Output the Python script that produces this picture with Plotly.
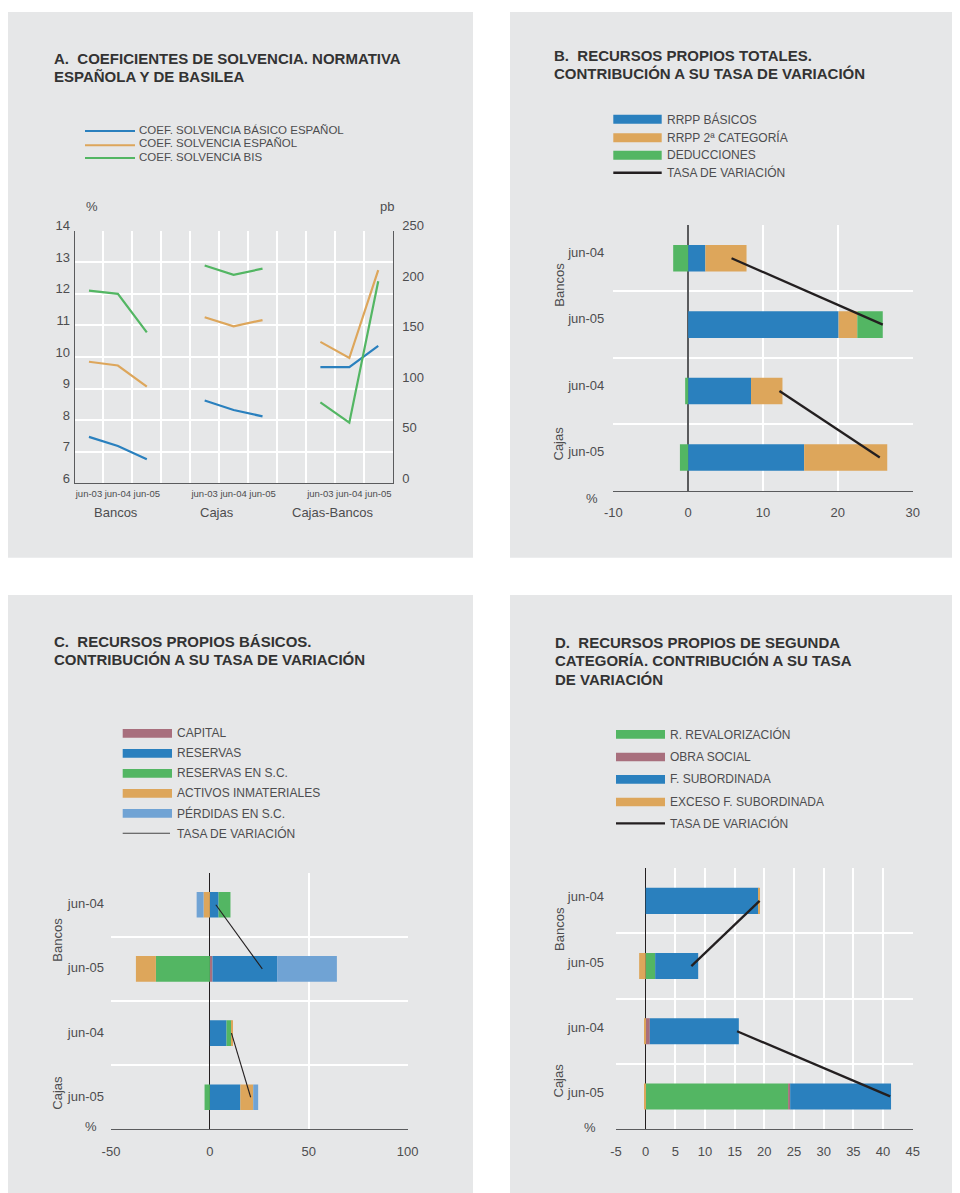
import plotly.graph_objects as go

# ---------------- DATA ----------------
# Panel A: coeficientes de solvencia (% for Bancos / Cajas, pb for Cajas-Bancos)
a_periods = ["jun-03", "jun-04", "jun-05"]
a_groups = ["Bancos", "Cajas", "Cajas-Bancos"]
a_series = ["COEF. SOLVENCIA BÁSICO ESPAÑOL", "COEF. SOLVENCIA ESPAÑOL", "COEF. SOLVENCIA BIS"]
bancos_basico = [7.47, 7.18, 6.76]
bancos_espanol = [9.85, 9.73, 9.06]
bancos_bis = [12.10, 12.00, 10.78]
cajas_basico = [8.62, 8.32, 8.12]
cajas_espanol = [11.26, 10.97, 11.17]
cajas_bis = [12.90, 12.60, 12.80]
dif_basico_pb = [115, 115, 136]
dif_espanol_pb = [140, 124, 211]
dif_bis_pb = [80, 60, 200]

# Rows shared by panels B, C, D
rows = ["jun-04", "jun-05", "jun-04", "jun-05"]
row_entities = ["Bancos", "Bancos", "Cajas", "Cajas"]

# Panel B: recursos propios totales
b_names = ["RRPP BÁSICOS", "RRPP 2ª CATEGORÍA", "DEDUCCIONES", "TASA DE VARIACIÓN"]
b_basicos = [2.3, 20.1, 8.4, 15.5]
b_segunda = [5.5, 2.5, 4.2, 11.1]
b_deducciones = [-2.0, 3.4, -0.4, -1.1]
b_tasa = [5.8, 26.0, 12.2, 25.6]
b_ticks = [-10, 0, 10, 20, 30]

# Panel C: recursos propios básicos
c_names = ["CAPITAL", "RESERVAS", "RESERVAS EN S.C.", "ACTIVOS INMATERIALES",
           "PÉRDIDAS EN S.C.", "TASA DE VARIACIÓN"]
c_capital = [0.0, 1.3, 0.0, 0.0]
c_reservas = [4.4, 32.7, 8.4, 15.4]
c_reservas_sc = [6.0, -27.3, 2.5, -2.7]
c_activos_inm = [-3.2, -10.1, 0.3, 6.5]
c_perdidas_sc = [-3.5, 30.2, 0.0, 2.5]
c_tasa = [3.0, 26.5, 10.9, 20.6]
c_ticks = [-50, 0, 50, 100]

# Panel D: recursos propios de segunda categoría
d_names = ["R. REVALORIZACIÓN", "OBRA SOCIAL", "F. SUBORDINADA",
           "EXCESO F. SUBORDINADA", "TASA DE VARIACIÓN"]
d_revalorizacion = [0.0, 1.6, 0.0, 24.0]
d_obra_social = [0.0, 0.0, 0.7, 0.35]
d_subordinada = [19.0, 7.25, 15.0, 17.0]
d_exceso = [0.15, -1.1, -0.2, -0.2]
d_tasa = [19.2, 7.7, 15.4, 41.2]
d_ticks = [-5, 0, 5, 10, 15, 20, 25, 30, 35, 40, 45]

# ---------------- STYLE ----------------
PAGE_OFF = 8          # default body margin of the html page
W, H = 960 - PAGE_OFF, 1193 - PAGE_OFF
BLUE = "#2A80BE"
ORANGE = "#DDA65B"
GREEN = "#53B663"
PINK = "#A86F7D"
LBLUE = "#70A3D4"
BG = "#E6E7E8"
AXIS = "#5A5B5D"
TXT = "#4D4D4F"
TITLE = "#333333"
BLACK = "#231F20"
FONT = "Liberation Sans, Arial, sans-serif"


def fx(px):
    return (px - PAGE_OFF) / W


def fy(py):
    return 1 - (py - PAGE_OFF) / H


fig = go.Figure()
shapes = []
annotations = []

# panel backgrounds
for (x0, y0, x1, y1) in [(8, 12, 473, 557.7), (510, 12, 960, 557.7),
                         (8, 595, 473, 1193), (510, 595, 960, 1193)]:
    shapes.append(dict(type="rect", xref="paper", yref="paper", x0=fx(x0), x1=fx(x1),
                       y0=fy(y1), y1=fy(y0), fillcolor=BG, line=dict(width=0), layer="below"))


def text(px, py, s, size=12, color=TXT, bold=False, xanchor="left", angle=0):
    if bold:
        s = "<b>" + s + "</b>"
    annotations.append(dict(xref="paper", yref="paper", x=fx(px), y=fy(py), text=s,
                            showarrow=False, xanchor=xanchor, yanchor="middle",
                            textangle=angle, font=dict(family=FONT, size=size, color=color)))


def leg_rect(x0, x1, yc, h, color, label, lx):
    shapes.append(dict(type="rect", xref="paper", yref="paper", x0=fx(x0), x1=fx(x1),
                       y0=fy(yc + h / 2), y1=fy(yc - h / 2), fillcolor=color, line=dict(width=0)))
    text(lx, yc, label)


def leg_line(x0, x1, yc, color, width, label, lx, ly=None, size=12):
    shapes.append(dict(type="line", xref="paper", yref="paper", x0=fx(x0), x1=fx(x1),
                       y0=fy(yc), y1=fy(yc), line=dict(color=color, width=width)))
    text(lx, yc if ly is None else ly, label, size)


# ---------------- PANEL A ----------------
a_colors = [BLUE, ORANGE, GREEN]
a_data = [
    [bancos_basico, bancos_espanol, bancos_bis],
    [cajas_basico, cajas_espanol, cajas_bis],
    [dif_basico_pb, dif_espanol_pb, dif_bis_pb],
]
for gi, group in enumerate(a_groups):
    xs = [gi * 4 + i + 0.5 for i in range(len(a_periods))]
    for si, vals in enumerate(a_data[gi]):
        fig.add_trace(go.Scatter(x=xs, y=vals, mode="lines", name=a_series[si],
                                 line=dict(color=a_colors[si], width=2.2),
                                 xaxis="x", yaxis="y" if gi < 2 else "y2", showlegend=False))

a_tickvals = [gi * 4 + i + 0.5 for gi in range(3) for i in range(3)]
a_ticktext = a_periods * 3

text(52, 58.5, "A.\u00a0 COEFICIENTES DE SOLVENCIA. NORMATIVA", 15, TITLE, True)
text(52, 76.5, "ESPAÑOLA Y DE BASILEA", 15, TITLE, True)
leg_line(85, 135, 131, BLUE, 2, a_series[0], 137, 129.8, 11.5)
leg_line(85, 135, 145.3, ORANGE, 2, a_series[1], 137, 143.3, 11.5)
leg_line(85, 135, 158, GREEN, 2, a_series[2], 137, 156.8, 11.5)
text(91.7, 206.7, "%", 13, TXT, xanchor="center")
text(386.7, 207, "pb", 13, TXT, xanchor="center")
text(116.3, 512.7, a_groups[0], 13, TXT, xanchor="center")
text(216.7, 512.7, a_groups[1], 13, TXT, xanchor="center")
text(332.3, 512.7, a_groups[2], 13, TXT, xanchor="center")

# ---------------- PANELS B, C, D ----------------
ypos = list(range(len(rows)))


def add_bars(values, names, colors, xa, ya):
    for vals, nm, col in zip(values, names, colors):
        fig.add_trace(go.Bar(x=vals, y=ypos, orientation="h", name=nm,
                             marker=dict(color=col, line=dict(width=0)),
                             xaxis=xa, yaxis=ya, showlegend=False))


def add_tasa(tasa, name, xa, ya, width, color):
    xs, ys = [], []
    for i, (v, ent) in enumerate(zip(tasa, row_entities)):
        if i > 0 and ent != row_entities[i - 1]:
            xs.append(None)
            ys.append(None)
        xs.append(v)
        ys.append(ypos[i])
    fig.add_trace(go.Scatter(x=xs, y=ys, mode="lines", name=name,
                             line=dict(color=color, width=width),
                             xaxis=xa, yaxis=ya, showlegend=False))


# B
add_bars([b_basicos, b_segunda, b_deducciones], b_names[:3], [BLUE, ORANGE, GREEN], "x2", "y3")
add_tasa(b_tasa, b_names[3], "x2", "y3", 2.3, BLACK)
text(552, 55.5, "B.\u00a0 RECURSOS PROPIOS TOTALES.", 15, TITLE, True)
text(552, 73, "CONTRIBUCIÓN A SU TASA DE VARIACIÓN", 15, TITLE, True)
for i, (col, yc) in enumerate(zip([BLUE, ORANGE, GREEN], [119.3, 137.7, 155.3])):
    leg_rect(613.3, 661.7, yc, 9, col, b_names[i], 665)
leg_line(613.3, 661.7, 172.7, BLACK, 2.5, b_names[3], 665)
text(592.3, 498.3, "%", 13, TXT, xanchor="center")
text(558.7, 285, "Bancos", 13, TXT, xanchor="center", angle=-90)
text(558.7, 443.8, "Cajas", 13, TXT, xanchor="center", angle=-90)

# C
add_bars([c_capital, c_reservas, c_reservas_sc, c_activos_inm, c_perdidas_sc], c_names[:5],
         [PINK, BLUE, GREEN, ORANGE, LBLUE], "x3", "y4")
add_tasa(c_tasa, c_names[5], "x3", "y4", 1.1, BLACK)
text(52, 641, "C.\u00a0 RECURSOS PROPIOS BÁSICOS.", 15, TITLE, True)
text(52, 659.5, "CONTRIBUCIÓN A SU TASA DE VARIACIÓN", 15, TITLE, True)
for i, (col, yc) in enumerate(zip([PINK, BLUE, GREEN, ORANGE, LBLUE],
                                  [733.3, 753.3, 773.3, 793.3, 813.3])):
    leg_rect(122.7, 172, yc, 8.7, col, c_names[i], 175)
leg_line(122.7, 170, 833.3, "#444444", 1.1, c_names[5], 175)
text(90.7, 1126.7, "%", 13, TXT, xanchor="center")
text(56.7, 940, "Bancos", 13, TXT, xanchor="center", angle=-90)
text(56.7, 1093, "Cajas", 13, TXT, xanchor="center", angle=-90)

# D
add_bars([d_revalorizacion, d_obra_social, d_subordinada, d_exceso], d_names[:4],
         [GREEN, PINK, BLUE, ORANGE], "x4", "y5")
add_tasa(d_tasa, d_names[4], "x4", "y5", 2.3, BLACK)
text(553.3, 642.2, "D.\u00a0 RECURSOS PROPIOS DE SEGUNDA", 15, TITLE, True)
text(553.3, 660.5, "CATEGORÍA. CONTRIBUCIÓN A SU TASA", 15, TITLE, True)
text(553.3, 679.2, "DE VARIACIÓN", 15, TITLE, True)
for i, (col, yc) in enumerate(zip([GREEN, PINK, BLUE, ORANGE], [734.3, 757, 779.3, 802])):
    leg_rect(616, 665, yc, 8.7, col, d_names[i], 668.3)
leg_line(616, 665, 823.3, BLACK, 2.3, d_names[4], 668.3)
text(590, 1127.7, "%", 13, TXT, xanchor="center")
text(558.7, 929.2, "Bancos", 13, TXT, xanchor="center", angle=-90)
text(558.7, 1080.8, "Cajas", 13, TXT, xanchor="center", angle=-90)

# ---------------- AXES ----------------
tickfont = dict(family=FONT, size=13, color=TXT)
row_minor = dict(tickmode="array", tickvals=[-0.5, 0.5, 1.5, 2.5], showgrid=True,
                 gridcolor="white", gridwidth=1.5, ticks="")


def xbar(domain, anchor, rng, ticks, zcolor, zwidth):
    return dict(domain=[fx(domain[0]), fx(domain[1])], anchor=anchor, range=rng,
                tickmode="array", tickvals=ticks, ticktext=[f"{t:g}" for t in ticks],
                showgrid=True, gridcolor="white", gridwidth=1.5, zeroline=True,
                zerolinecolor=zcolor, zerolinewidth=zwidth, showline=True, linecolor=AXIS,
                linewidth=1, ticks="", tickfont=tickfont, ticklabelstandoff=10,
                automargin=False, fixedrange=True)


def ybar(domain, anchor, standoff, shift):
    return dict(domain=[fy(domain[1]), fy(domain[0])], anchor=anchor, range=[3.5, -0.5],
                tickmode="array", tickvals=ypos, ticktext=rows, showgrid=False,
                minor=row_minor, zeroline=False, showline=False, ticks="", tickfont=tickfont,
                ticklabelstandoff=standoff, ticklabelshift=shift, automargin=False,
                fixedrange=True)


fig.update_layout(
    width=W, height=H,
    margin=dict(l=0, r=0, t=0, b=0, pad=0, autoexpand=False),
    paper_bgcolor="white", plot_bgcolor=BG,
    barmode="relative", bargap=0.6,
    showlegend=False,
    font=dict(family=FONT, color=TXT),
    xaxis=dict(domain=[fx(74.5), fx(392.7)], anchor="y", range=[0, 11], tickmode="array",
               tickvals=a_tickvals, ticktext=a_ticktext, tickangle=0, showgrid=False,
               zeroline=False, showline=True, linecolor=AXIS, linewidth=1, ticks="",
               tickfont=dict(family=FONT, size=9.5, color=TXT), ticklabelstandoff=1,
               minor=dict(tickmode="array", tickvals=list(range(12)), showgrid=True,
                          gridcolor="white", gridwidth=1.5, ticks=""),
               automargin=False, fixedrange=True),
    yaxis=dict(domain=[fy(483.3), fy(230.7)], anchor="x", range=[6, 14], dtick=1,
               showgrid=True, gridcolor="white", gridwidth=1.5, zeroline=False,
               showline=True, linecolor=AXIS, linewidth=1, ticks="", tickfont=tickfont,
               ticklabelshift=-5, ticklabelstandoff=1, automargin=False, fixedrange=True),
    yaxis2=dict(overlaying="y", side="right", anchor="x", range=[0, 250], dtick=50,
                showgrid=False, zeroline=False, showline=True, linecolor=AXIS, linewidth=1,
                ticks="", tickfont=tickfont, ticklabelshift=-5, ticklabelstandoff=6,
                automargin=False, fixedrange=True),
    xaxis2=xbar((613.3, 912.7), "y3", [-10, 30], b_ticks, AXIS, 1.5),
    yaxis3=ybar((225, 490.7), "x2", 8, 6),
    xaxis3=xbar((111, 407.7), "y4", [-50, 100], c_ticks, BLACK, 1.2),
    yaxis4=ybar((872.7, 1129.3), "x3", 6, 1),
    xaxis4=xbar((616, 912.7), "y5", [-5, 45], d_ticks, BLACK, 1.2),
    yaxis5=ybar((868.3, 1129), "x4", 11, 4),
    shapes=shapes,
    annotations=annotations,
)

fig.write_html("out.html")
